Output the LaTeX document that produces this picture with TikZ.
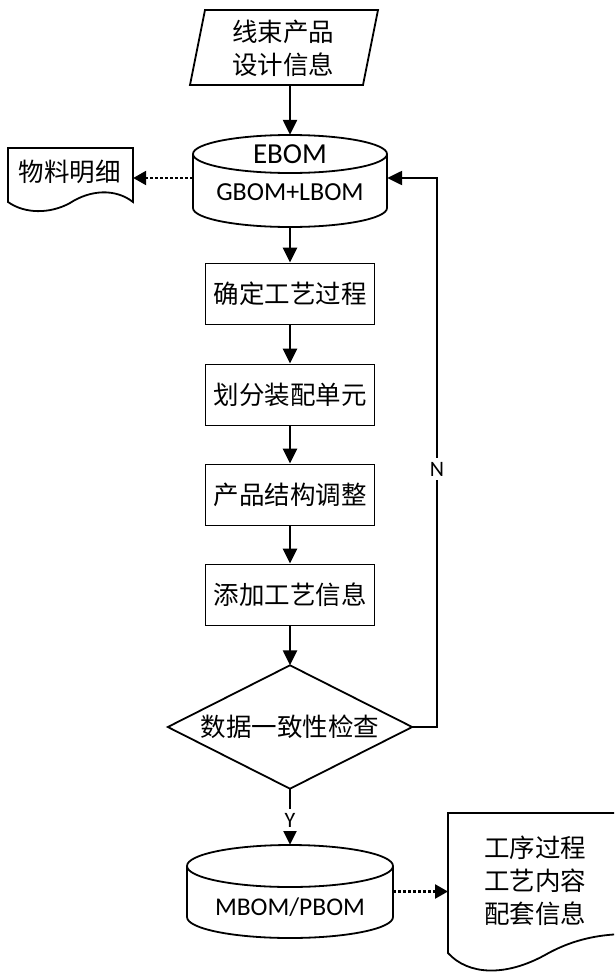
\documentclass[tikz,border=0pt]{standalone}
\usepackage{fontspec}
\setmainfont{Carlito}
\newfontfamily\cjk{Noto Sans CJK SC}
\usetikzlibrary{arrows.meta,calc}
\begin{document}
\begin{tikzpicture}[x=1pt,y=1pt,
  outline/.style={line width=1.8pt,line join=miter},
  conn/.style={line width=2.4pt,-{Triangle[length=15pt,width=14pt]}},
  dotconn/.style={line width=2.4pt,dash pattern=on 3pt off 2pt,-{Triangle[length=13pt,width=14pt]}},
  cjktext/.style={font=\cjk\fontsize{25.5}{33}\selectfont,align=center,inner sep=0pt},
  ghost/.style={inner sep=0pt},
  proc/.style={draw,line width=1.8pt,minimum width=169pt,minimum height=61pt,inner sep=0pt,font=\cjk\fontsize{25.5}{30}\selectfont},
  lbl/.style={fill=white,font=\fontsize{22}{24}\selectfont,inner sep=4pt}
]
\useasboundingbox (0,0) rectangle (614,-972);
\clip (0,0) rectangle (614,-972);

% input parallelogram
\node[ghost,minimum width=188pt,minimum height=75pt] (input) at (284,-47.5) {};
\draw[outline] (205,-10) -- (378,-10) -- (363,-85) -- (190,-85) -- cycle;
\node[cjktext] (inputt) at (283,-48) {线束产品\\设计信息};

% EBOM cylinder
\node[ghost,minimum width=194pt,minimum height=92pt] (ebom) at (290,-181) {};
\draw[outline] (290,-154) ellipse [x radius=97, y radius=19];
\draw[outline] (193,-154) -- (193,-208) arc[start angle=180,end angle=360,x radius=97,y radius=19] -- (387,-154);
\node[inner sep=0pt,font=\fontsize{29}{30}\selectfont] (ebomt) at (290,-154) {EBOM};
\node[inner sep=0pt,font=\fontsize{26}{28}\selectfont] (gbomt) at (290,-192) {GBOM+LBOM};

% document 1
\node[ghost,minimum width=125pt,minimum height=60pt] (doc1) at (70.5,-178) {};
\draw[outline] (8,-148) -- (133,-148) -- (133,-202)
  .. controls (115,-188) and (90,-190) .. (70,-203)
  .. controls (50,-214) and (25,-214) .. (8,-202) -- cycle;
\node[cjktext] (doc1t) at (70,-172) {物料明细};

% process boxes
\node[proc] (b1) at (290,-294) {确定工艺过程};
\node[proc] (b2) at (290,-395) {划分装配单元};
\node[proc] (b3) at (290,-495) {产品结构调整};
\node[proc] (b4) at (290,-595) {添加工艺信息};

% decision
\node[ghost,minimum width=244pt,minimum height=123pt] (dec) at (290,-727) {};
\draw[outline] (dec.north) -- (dec.east) -- (dec.south) -- (dec.west) -- cycle;
\node[cjktext] (dect) at (290,-727) {数据一致性检查};

% MBOM cylinder
\node[ghost,minimum width=206pt,minimum height=93pt] (mbom) at (290,-891.5) {};
\draw[outline] (290,-866) ellipse [x radius=103, y radius=21];
\draw[outline] (187,-866) -- (187,-917) arc[start angle=180,end angle=360,x radius=103,y radius=21] -- (393,-866);
\node[inner sep=0pt,font=\fontsize{25.5}{28}\selectfont] (mbomt) at (290,-907) {MBOM/PBOM};

% document 2
\coordinate (doc2w) at (448,-891.5);
\draw[outline] (448,-813) -- (650,-813) -- (650,-935)
  .. controls (615,-932) and (580,-935) .. (545,-955)
  .. controls (505,-977) and (468,-975) .. (448,-953) -- cycle;
\node[cjktext] (doc2t) at (535,-881) {工序过程\\工艺内容\\配套信息};

% connectors
\draw[conn] (input.south -| ebom.north) -- (ebom.north);
\draw[dotconn] (ebom.west |- doc1.east) -- (doc1.east);
\draw[conn] (ebom.south) -- (b1.north);
\draw[conn] (b1.south) -- (b2.north);
\draw[conn] (b2.south) -- (b3.north);
\draw[conn] (b3.south) -- (b4.north);
\draw[conn] (b4.south) -- (dec.north);
\coordinate (loopb) at (437,-727);
\coordinate (loopt) at (437,-178);
\draw[conn] (dec.east) -- (loopb) -- node[lbl,pos=0.47] (nlbl) {N} (loopt) -- (ebom.east |- loopt);
\draw[conn] (dec.south) -- node[lbl,pos=0.56] (ylbl) {Y} (mbom.north);
\draw[dotconn] (mbom.east) -- (doc2w);
\end{tikzpicture}
\end{document}
